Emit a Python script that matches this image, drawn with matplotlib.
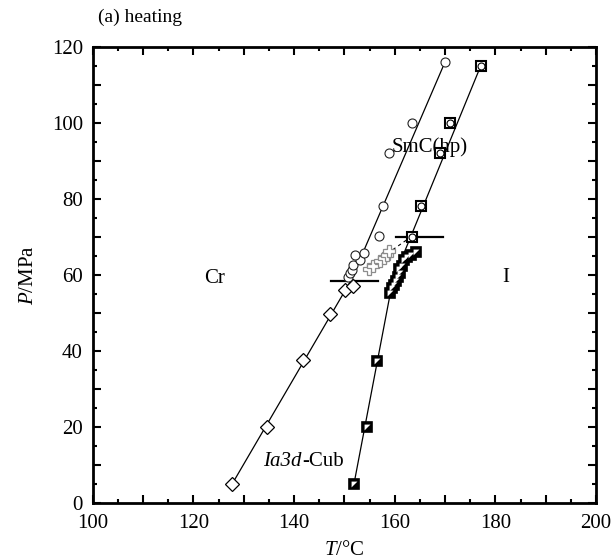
import numpy as np
import matplotlib
matplotlib.use('Agg')
from matplotlib import pyplot as plt
from matplotlib.ticker import MultipleLocator, FuncFormatter

plt.rcParams['font.family'] = 'Liberation Serif'
plt.rcParams['mathtext.fontset'] = 'custom'
plt.rcParams['mathtext.rm'] = 'Liberation Serif'
plt.rcParams['mathtext.it'] = 'Liberation Serif:italic'

# Cr -> Ia3d-Cub (open diamonds)
T_dia = [127.7, 134.6, 141.7, 147.2, 150.2, 151.7]
P_dia = [5.0, 20.0, 37.5, 49.7, 56.0, 57.0]

# Cr -> SmC(hp) (open circles)
T_cir = [150.8, 151.1, 151.5, 151.8, 153.0, 152.2, 153.8, 156.9, 157.6, 158.9, 163.4, 170.0]
P_cir = [59.5, 60.4, 61.4, 62.7, 63.8, 65.2, 65.8, 70.2, 78.0, 92.0, 100.0, 116.0]

# Ia3d-Cub -> SmC(hp) (open crosses)
T_crs = [154.8, 155.6, 157.0, 157.8, 158.4, 158.9]
P_crs = [61.5, 62.4, 63.6, 64.5, 65.3, 66.2]

# Ia3d-Cub -> I (half-filled squares)
T_hsq = [151.9, 154.4, 156.4, 159.1, 159.4, 159.8, 160.3, 160.6, 161.0, 160.8, 161.4, 161.9, 162.4, 163.3, 164.2]
P_hsq = [5.0, 20.0, 37.4, 55.2, 56.5, 57.4, 58.3, 59.5, 60.4, 61.5, 62.2, 63.8, 64.6, 65.3, 66.0]

# SmC(hp) -> I (squares with circle)
T_sqc = [163.4, 165.2, 169.0, 171.0, 177.1]
P_sqc = [70.0, 78.0, 92.0, 100.0, 115.0]

# phase boundary lines
T_line1 = [127.7, 151.3, 170.0]
P_line1 = [5.0, 58.5, 116.0]
T_line2 = [151.9, 159.6, 177.1]
P_line2 = [5.0, 58.5, 115.0]
T_dash = [159.6, 162.6]
P_dash = [66.6, 69.4]

# triple points
T_tp = [[147.3, 156.6], [160.3, 169.5]]
P_tp = [[58.4, 58.4], [70.0, 70.0]]

fig = plt.figure(figsize=(6.12, 5.59), dpi=100)
ax = fig.add_axes([0.1515, 0.1002, 0.8225, 0.8163])

ax.plot(T_line1, P_line1, color='k', lw=0.9, zorder=1)
ax.plot(T_line2, P_line2, color='k', lw=0.9, zorder=1)
ax.plot(T_dash, P_dash, color='k', lw=0.8, dashes=[3, 3], zorder=1)
for tt, pp in zip(T_tp, P_tp):
    ax.plot(tt, pp, color='k', lw=1.6, zorder=1)

ax.plot(T_dia, P_dia, 'D', ms=7, mfc='white', mec='k', mew=0.9, ls='none', zorder=3)
ax.plot(T_cir, P_cir, 'o', ms=6.5, mfc='white', mec='#222222', mew=0.8, ls='none', zorder=3)
ax.plot(T_crs, P_crs, 'P', ms=8.5, mfc='white', mec='#8c8c8c', mew=0.9, ls='none', zorder=3)

# half-filled squares: black square + white upper-left triangle
ax.plot(T_hsq, P_hsq, 's', ms=7.5, mfc='k', mec='k', mew=1.2, ls='none', zorder=4)
tri = [(-1, 1), (1, 1), (-1, -1)]
ax.plot(T_hsq, P_hsq, marker=tri, ms=4.2, mfc='white', mec='none', ls='none', zorder=5)

# squares containing a circle
ax.plot(T_sqc, P_sqc, 's', ms=7.5, mfc='white', mec='k', mew=1.5, ls='none', zorder=4)
ax.plot(T_sqc, P_sqc, 'o', ms=5, mfc='white', mec='k', mew=0.8, ls='none', zorder=5)

ax.text(124.3, 59, 'Cr', fontsize=15, ha='center', va='center')
ax.text(182, 59.4, 'I', fontsize=15, ha='center', va='center')
ax.text(167, 93.5, 'SmC(hp)', fontsize=15, ha='center', va='center')
t1 = ax.text(133.9, 10.9, 'Ia3d', fontsize=15, fontstyle='italic', ha='left', va='center')
ax.annotate('-Cub', xy=(1, 0), xycoords=t1, fontsize=15, ha='left', va='bottom')
ax.text(0.01, 1.045, '(a) heating', fontsize=14, transform=ax.transAxes, ha='left', va='bottom')

ax.set_xlim(100, 200)
ax.set_ylim(0, 120)
ax.xaxis.set_major_locator(MultipleLocator(10))
ax.xaxis.set_minor_locator(MultipleLocator(5))
ax.yaxis.set_major_locator(MultipleLocator(10))
ax.yaxis.set_minor_locator(MultipleLocator(5))
every20 = FuncFormatter(lambda v, p: f'{v:.0f}' if round(v) % 20 == 0 else '')
ax.xaxis.set_major_formatter(every20)
ax.yaxis.set_major_formatter(every20)

ax.tick_params(which='both', direction='in', top=True, right=True, width=1.5, labelsize=15)
ax.tick_params(which='major', length=6)
ax.tick_params(which='minor', length=3)
ax.tick_params(axis='x', pad=8)
ax.tick_params(axis='y', pad=7)
for s in ax.spines.values():
    s.set_linewidth(2)

ax.set_xlabel(r'$T$/°C', fontsize=15, labelpad=6)
ax.set_ylabel(r'$P$/MPa', fontsize=15, labelpad=10)

fig.savefig('out.png', dpi=100)
